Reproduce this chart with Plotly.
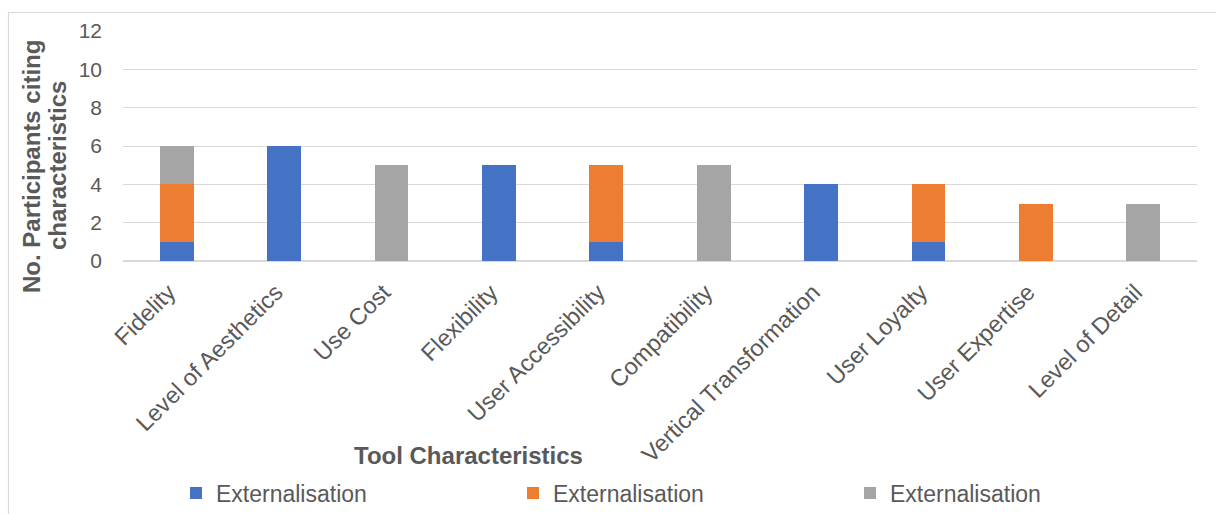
import plotly.graph_objects as go

# Tool characteristics and participant counts per stacked series
categories = ["Fidelity", "Level of Aesthetics", "Use Cost", "Flexibility",
              "User Accessibility", "Compatibility", "Vertical Transformation",
              "User Loyalty", "User Expertise", "Level of Detail"]
series_names = ["Externalisation", "Externalisation", "Externalisation"]
blue_vals = [1, 6, 0, 5, 1, 0, 4, 1, 0, 0]
orange_vals = [3, 0, 0, 0, 4, 0, 0, 3, 3, 0]
gray_vals = [2, 0, 5, 0, 0, 5, 0, 0, 0, 3]
y_ticks = [0, 2, 4, 6, 8, 10, 12]

colors = ["#4472C4", "#ED7D31", "#A5A5A5"]
text_color = "#595959"
font_family = "Liberation Sans, Arial, sans-serif"

W, H = 1216, 514
L, R, T, B = 123, 19, 31, 253
plot_w = W - L - R
plot_h = H - T - B

def px_to_paper_x(px):
    return (px - L) / plot_w

def px_to_paper_y(py):
    return (H - B - py) / plot_h

fig = go.Figure()
for name, vals, col in zip(series_names, [blue_vals, orange_vals, gray_vals], colors):
    fig.add_trace(go.Bar(
        x=categories, y=vals, name=name,
        marker=dict(color=col, line=dict(width=0)),
    ))

fig.update_layout(
    width=W, height=H,
    barmode="stack",
    bargap=0.685,
    margin=dict(l=L, r=R, t=T, b=B, autoexpand=False),
    paper_bgcolor="white",
    plot_bgcolor="white",
    font=dict(family=font_family, color=text_color),
    showlegend=True,
    legend=dict(
        orientation="h",
        traceorder="normal",
        x=px_to_paper_x(176), xanchor="left",
        y=px_to_paper_y(493), yanchor="middle",
        font=dict(size=23, color=text_color),
        entrywidth=292, entrywidthmode="pixels",
        itemwidth=30,
        bgcolor="rgba(0,0,0,0)",
    ),
    xaxis=dict(
        tickangle=-45,
        tickfont=dict(size=23.5, color=text_color),
        showgrid=False,
        showline=False,
        ticks="",
        ticklabelstandoff=12,
        ticklabelshift=-8,
        automargin=False,
    ),
    yaxis=dict(
        range=[0, 12],
        tickvals=y_ticks,
        tickfont=dict(size=21, color=text_color),
        showgrid=True,
        gridcolor="#D9D9D9",
        gridwidth=1.4,
        zeroline=True,
        zerolinecolor="#D9D9D9",
        zerolinewidth=1.6,
        showline=False,
        ticks="",
        ticklabelstandoff=20,
        automargin=False,
    ),
    annotations=[
        dict(
            text="<b>No. Participants citing</b>",
            xref="paper", yref="paper",
            x=px_to_paper_x(31), y=px_to_paper_y(166),
            xanchor="center", yanchor="middle",
            textangle=-90, showarrow=False,
            font=dict(size=24, color=text_color),
        ),
        dict(
            text="<b>characteristics</b>",
            xref="paper", yref="paper",
            x=px_to_paper_x(57), y=px_to_paper_y(166),
            xanchor="center", yanchor="middle",
            textangle=-90, showarrow=False,
            font=dict(size=24, color=text_color),
        ),
        dict(
            text="<b>Tool Characteristics</b>",
            xref="paper", yref="paper",
            x=px_to_paper_x(468), y=px_to_paper_y(455),
            xanchor="center", yanchor="middle",
            showarrow=False,
            font=dict(size=24, color=text_color),
        ),
    ],
    shapes=[
        dict(
            type="rect", xref="paper", yref="paper",
            x0=px_to_paper_x(8.5), x1=px_to_paper_x(1300),
            y0=px_to_paper_y(12.5), y1=px_to_paper_y(600),
            line=dict(color="#D9D9D9", width=1.2),
            fillcolor="rgba(0,0,0,0)", layer="below",
        ),
    ],
)

fig.write_html("out.html")
